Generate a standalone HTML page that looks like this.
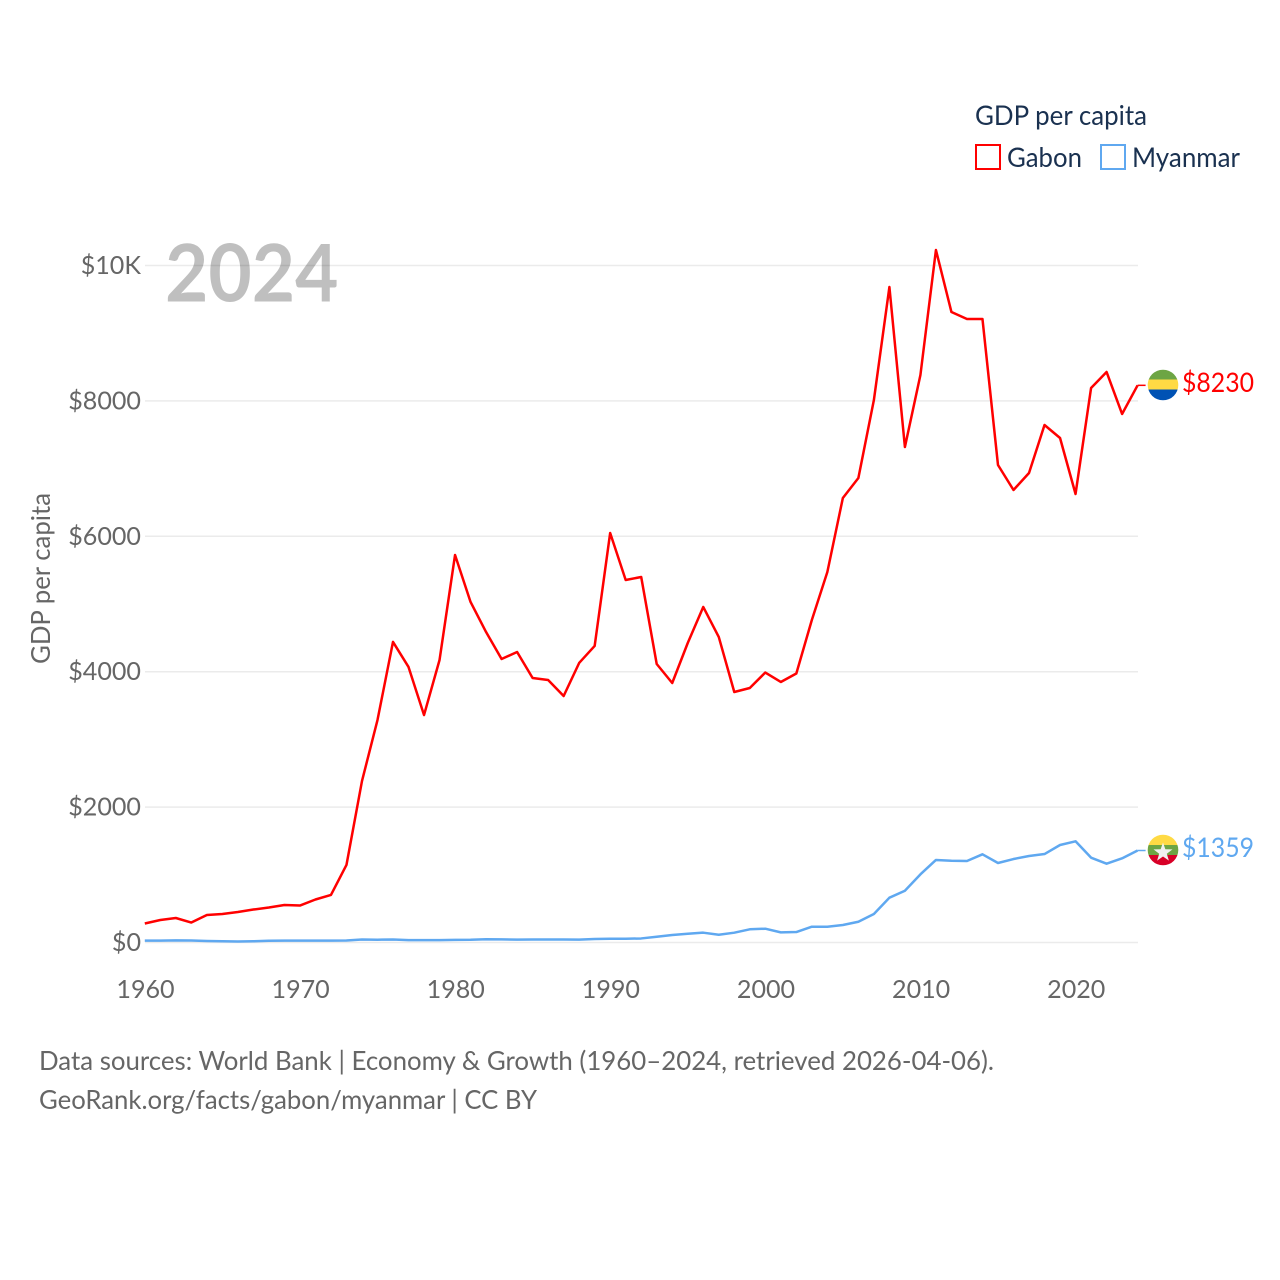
<!DOCTYPE html>
<html lang="en">
<head>
<meta charset="utf-8">
<title>GDP per capita: Gabon and Myanmar</title>
<style>
html,body{margin:0;padding:0;background:#fff;width:1280px;height:1280px;overflow:hidden}
svg{display:block}
text{font-family:"Lato","Carlito","Liberation Sans",sans-serif}
</style>
</head>
<body>
<svg id="chart" xmlns="http://www.w3.org/2000/svg" width="1280" height="1280" viewBox="0 0 1280 1280">
  <g id="grid"></g>
  <text x="165" y="301.500" font-size="80" font-weight="700" fill="#000" fill-opacity="0.25" textLength="173.500" lengthAdjust="spacingAndGlyphs">2024</text>
  <g id="yticks"></g>
  <g id="xticks"></g>
  <text transform="translate(50,664) rotate(-90)" font-size="26" fill="#666" textLength="171" lengthAdjust="spacingAndGlyphs">GDP per capita</text>
  <g id="series"></g>

  <g>
    <text x="975" y="125" font-size="27" fill="#1a3150" textLength="172" lengthAdjust="spacingAndGlyphs">GDP per capita</text>
    <g>
      <rect x="976" y="145" width="24" height="24" fill="none" stroke="#ff0000" stroke-width="2"/>
      <text x="1007" y="167" font-size="27" fill="#1a3150" textLength="75" lengthAdjust="spacingAndGlyphs">Gabon</text>
    </g>
    <g>
      <rect x="1101" y="145" width="24" height="24" fill="none" stroke="#5fa8f0" stroke-width="2"/>
      <text x="1132" y="167" font-size="27" fill="#1a3150" textLength="108" lengthAdjust="spacingAndGlyphs">Myanmar</text>
    </g>
  </g>

  <defs>
    <clipPath id="flag-clip-gabon"><circle cx="1163" cy="385" r="15.3"/></clipPath>
    <clipPath id="flag-clip-myanmar"><circle cx="1163" cy="850" r="15.3"/></clipPath>
  </defs>
  <g clip-path="url(#flag-clip-gabon)">
    <rect x="1147" y="369" width="32" height="10.500" fill="#6da544"/>
    <rect x="1147" y="379.500" width="32" height="10" fill="#ffda44"/>
    <rect x="1147" y="389.500" width="32" height="11.500" fill="#0052b4"/>
  </g>
  <g clip-path="url(#flag-clip-myanmar)">
    <rect x="1147" y="834" width="32" height="11" fill="#ffda44"/>
    <rect x="1147" y="845" width="32" height="10" fill="#6da544"/>
    <rect x="1147" y="855" width="32" height="11" fill="#d80027"/>
    <polygon points="1163,842.5 1165.35,849.26 1172.5,849.4 1166.8,853.74 1168.9,860.6 1163,856.5 1157.1,860.6 1159.2,853.74 1153.5,849.4 1160.65,849.26" fill="#f0f0f0"/>
  </g>
  <text id="label-gabon" x="1182" y="392" font-size="27" fill="#ff0000" textLength="72" lengthAdjust="spacingAndGlyphs"></text>
  <text id="label-myanmar" x="1182" y="857" font-size="27" fill="#5fa8f0" textLength="72" lengthAdjust="spacingAndGlyphs"></text>

  <text x="39" y="1070" font-size="26" fill="#666" textLength="955" lengthAdjust="spacingAndGlyphs">Data sources: World Bank | Economy &amp; Growth (1960–2024, retrieved 2026-04-06).</text>
  <text x="39" y="1109" font-size="26" fill="#666" textLength="498" lengthAdjust="spacingAndGlyphs">GeoRank.org/facts/gabon/myanmar | CC BY</text>
</svg>
<script>
const startYear = 1960;
const xTickYears = [1960, 1970, 1980, 1990, 2000, 2010, 2020];
const yTickValues = [0, 2000, 4000, 6000, 8000, 10000];
const yTickLabels = ["$0", "$2000", "$4000", "$6000", "$8000", "$10K"];
const gabonValues = [281,332,362,295,406,421,450,487,517,554,546,635,702,1145,2385,3286,4440,4070,3360,4173,5724,5030,4586,4188,4291,3907,3877,3641,4129,4380,6049,5355,5399,4114,3833,4424,4956,4513,3700,3759,3988,3848,3973,4764,5473,6566,6861,8013,9682,7319,8383,10229,9313,9210,9210,7053,6684,6935,7644,7452,6625,8190,8427,7807,8230];
const myanmarValues = [27,28,32,29,22,19,15,18,25,27,27,27,28,30,44,41,44,35,35,35,38,40,48,46,42,44,45,44,42,52,55,55,60,85,110,130,145,115,145,195,204,150,155,233,233,258,307,421,662,765,1007,1219,1208,1204,1303,1174,1233,1278,1307,1440,1495,1253,1164,1243,1359];

const NS = "http://www.w3.org/2000/svg";
const xScale = function (year) { return 144.8 + (year - 1960) * (1137.6 - 144.8) / 64; };
const yScale = function (value) { return 942.5 - value * 0.0677; };

const grid = document.getElementById("grid");
const yticks = document.getElementById("yticks");
yTickValues.forEach(function (v, i) {
  const line = document.createElementNS(NS, "line");
  
  
  line.setAttribute("x1", 145);
  line.setAttribute("x2", 1138);
  line.setAttribute("y1", yScale(v));
  line.setAttribute("y2", yScale(v));
  line.setAttribute("stroke", "#ebebeb");
  line.setAttribute("stroke-width", 1.5);
  grid.appendChild(line);

  const label = document.createElementNS(NS, "text");
  
  
  label.setAttribute("x", 141);
  label.setAttribute("y", yScale(v) + 8.5);
  label.setAttribute("text-anchor", "end");
  label.setAttribute("font-size", 25.1);
  label.setAttribute("fill", "#666");
  label.textContent = yTickLabels[i];
  yticks.appendChild(label);
});

const xticks = document.getElementById("xticks");
xTickYears.forEach(function (year) {
  const label = document.createElementNS(NS, "text");
  
  
  label.setAttribute("x", xScale(year) + 0.7);
  label.setAttribute("y", 998);
  label.setAttribute("text-anchor", "middle");
  label.setAttribute("font-size", 25.1);
  label.setAttribute("fill", "#666");
  label.textContent = String(year);
  xticks.appendChild(label);
});

function linePath(values) {
  return values.map(function (v, i) {
    return (i ? "L" : "M") + xScale(startYear + i).toFixed(2) + " " + yScale(v).toFixed(2);
  }).join(" ");
}
function lastPoint(values) {
  const v = values[values.length - 1];
  return "M" + xScale(startYear + values.length - 1).toFixed(2) + " " + yScale(v).toFixed(2) + " h8";
}

const series = document.getElementById("series");

const gabonLine = document.createElementNS(NS, "path");


gabonLine.setAttribute("d", linePath(gabonValues));
gabonLine.setAttribute("fill", "none");
gabonLine.setAttribute("stroke", "#ff0000");
gabonLine.setAttribute("stroke-width", 2.5);
gabonLine.setAttribute("stroke-linejoin", "round");
series.appendChild(gabonLine);

const myanmarLine = document.createElementNS(NS, "path");


myanmarLine.setAttribute("d", linePath(myanmarValues));
myanmarLine.setAttribute("fill", "none");
myanmarLine.setAttribute("stroke", "#5fa8f0");
myanmarLine.setAttribute("stroke-width", 2.5);
myanmarLine.setAttribute("stroke-linejoin", "round");
series.appendChild(myanmarLine);

const gabonLeader = document.createElementNS(NS, "path");


gabonLeader.setAttribute("d", lastPoint(gabonValues));
gabonLeader.setAttribute("fill", "none");
gabonLeader.setAttribute("stroke", "#ff0000");
gabonLeader.setAttribute("stroke-width", 1.5);
series.appendChild(gabonLeader);

const myanmarLeader = document.createElementNS(NS, "path");


myanmarLeader.setAttribute("d", lastPoint(myanmarValues));
myanmarLeader.setAttribute("fill", "none");
myanmarLeader.setAttribute("stroke", "#5fa8f0");
myanmarLeader.setAttribute("stroke-width", 1.5);
series.appendChild(myanmarLeader);

document.getElementById("label-gabon").textContent = "$" + gabonValues[gabonValues.length - 1];
document.getElementById("label-myanmar").textContent = "$" + myanmarValues[myanmarValues.length - 1];
</script>
</body>
</html>
